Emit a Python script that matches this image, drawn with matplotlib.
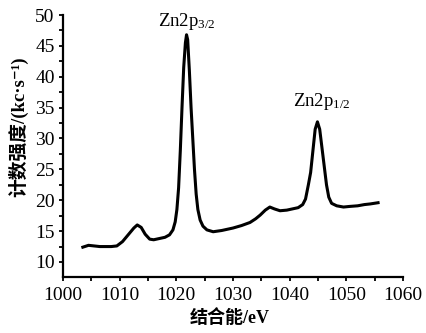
import matplotlib
matplotlib.use("Agg")
import matplotlib.pyplot as plt
from matplotlib.ticker import MultipleLocator

plt.rcParams['font.family'] = ['Liberation Serif', 'Noto Sans CJK SC', 'DejaVu Sans']
plt.rcParams['mathtext.fontset'] = 'custom'
plt.rcParams['mathtext.rm'] = 'Liberation Serif'
plt.rcParams['mathtext.it'] = 'Liberation Serif:italic'

# Binding energy (eV) and counts (kc/s)
energy = [1003.5, 1004.5, 1005.5, 1006.5, 1007.5, 1008.5, 1009.5, 1010.5, 1011.5,
          1012.5, 1013.1, 1013.8, 1014.5, 1015.3, 1016.0, 1017.0, 1018.0, 1018.8,
          1019.4, 1019.8, 1020.1, 1020.4, 1020.7, 1021.0, 1021.3, 1021.6, 1021.8,
          1022.0, 1022.3, 1022.6, 1022.9, 1023.2, 1023.5, 1023.8, 1024.2, 1024.7,
          1025.4, 1026.5, 1028.0, 1030.0, 1031.5, 1033.0, 1034.0, 1034.8, 1035.7,
          1036.5, 1037.3, 1038.3, 1039.5, 1040.5, 1041.5, 1042.3, 1042.8, 1043.3,
          1043.7, 1044.1, 1044.5, 1044.9, 1045.3, 1045.7, 1046.1, 1046.5, 1046.9,
          1047.4, 1048.3, 1049.5, 1050.6, 1052.0, 1053.2, 1054.2, 1055.6]
counts = [12.4, 12.7, 12.6, 12.5, 12.5, 12.5, 12.6, 13.3, 14.4,
          15.5, 16.0, 15.6, 14.5, 13.7, 13.6, 13.8, 14.0, 14.4,
          15.2, 16.5, 18.5, 22.0, 28.0, 35.0, 41.5, 45.5, 46.8,
          46.0, 41.0, 35.0, 30.0, 25.0, 21.0, 18.5, 16.8, 15.8,
          15.2, 14.9, 15.1, 15.5, 15.9, 16.4, 17.0, 17.6, 18.4,
          18.9, 18.6, 18.3, 18.4, 18.6, 18.8, 19.3, 20.2, 22.5,
          24.5, 28.0, 31.5, 32.7, 31.5, 28.5, 25.5, 22.5, 20.5,
          19.5, 19.1, 18.9, 19.0, 19.1, 19.3, 19.4, 19.6]

peak_labels = [r'Zn2p$_{\mathrm{3/2}}$', r'Zn2p$_{\mathrm{1/2}}$']
peak_label_x = [1021.9, 1045.7]
peak_label_y = [49.0, 36.0]

xlabel = '结合能/eV'
ylabel = '计数强度/(kc·s⁻¹)'

W, H = 426, 333
fig = plt.figure(figsize=(W / 100, H / 100), dpi=100)
ax = fig.add_axes([63 / W, 1 - 277 / H, 340 / W, 262 / H])

ax.plot(energy, counts, color='black', linewidth=2.2, solid_joinstyle='round')

ax.set_xlim(1000, 1060)
ax.set_ylim(7.57, 50)
ax.xaxis.set_major_locator(MultipleLocator(10))
ax.xaxis.set_minor_locator(MultipleLocator(5))
ax.yaxis.set_major_locator(MultipleLocator(5))
ax.yaxis.set_minor_locator(MultipleLocator(2.5))
ax.set_yticks([10, 15, 20, 25, 30, 35, 40, 45, 50])

for s in ['top', 'right']:
    ax.spines[s].set_visible(False)
for s in ['left', 'bottom']:
    ax.spines[s].set_linewidth(1.6)

ax.tick_params(which='both', direction='out', length=3, width=1.3, labelsize=14, color='black')
ax.tick_params(axis='x', which='major', pad=4)
ax.tick_params(axis='y', which='major', pad=3)

for t, x, y in zip(peak_labels, peak_label_x, peak_label_y):
    ax.text(x, y, t, ha='center', va='center', fontsize=13.5, clip_on=False)

fig.text(230 / W, 1 - 318 / H, xlabel, ha='center', va='center', fontsize=13, fontweight='bold')
fig.text(18 / W, 1 - 127 / H, ylabel, ha='center', va='center', fontsize=13.5, fontweight='bold', rotation=90)

fig.savefig('out.png', dpi=100)
